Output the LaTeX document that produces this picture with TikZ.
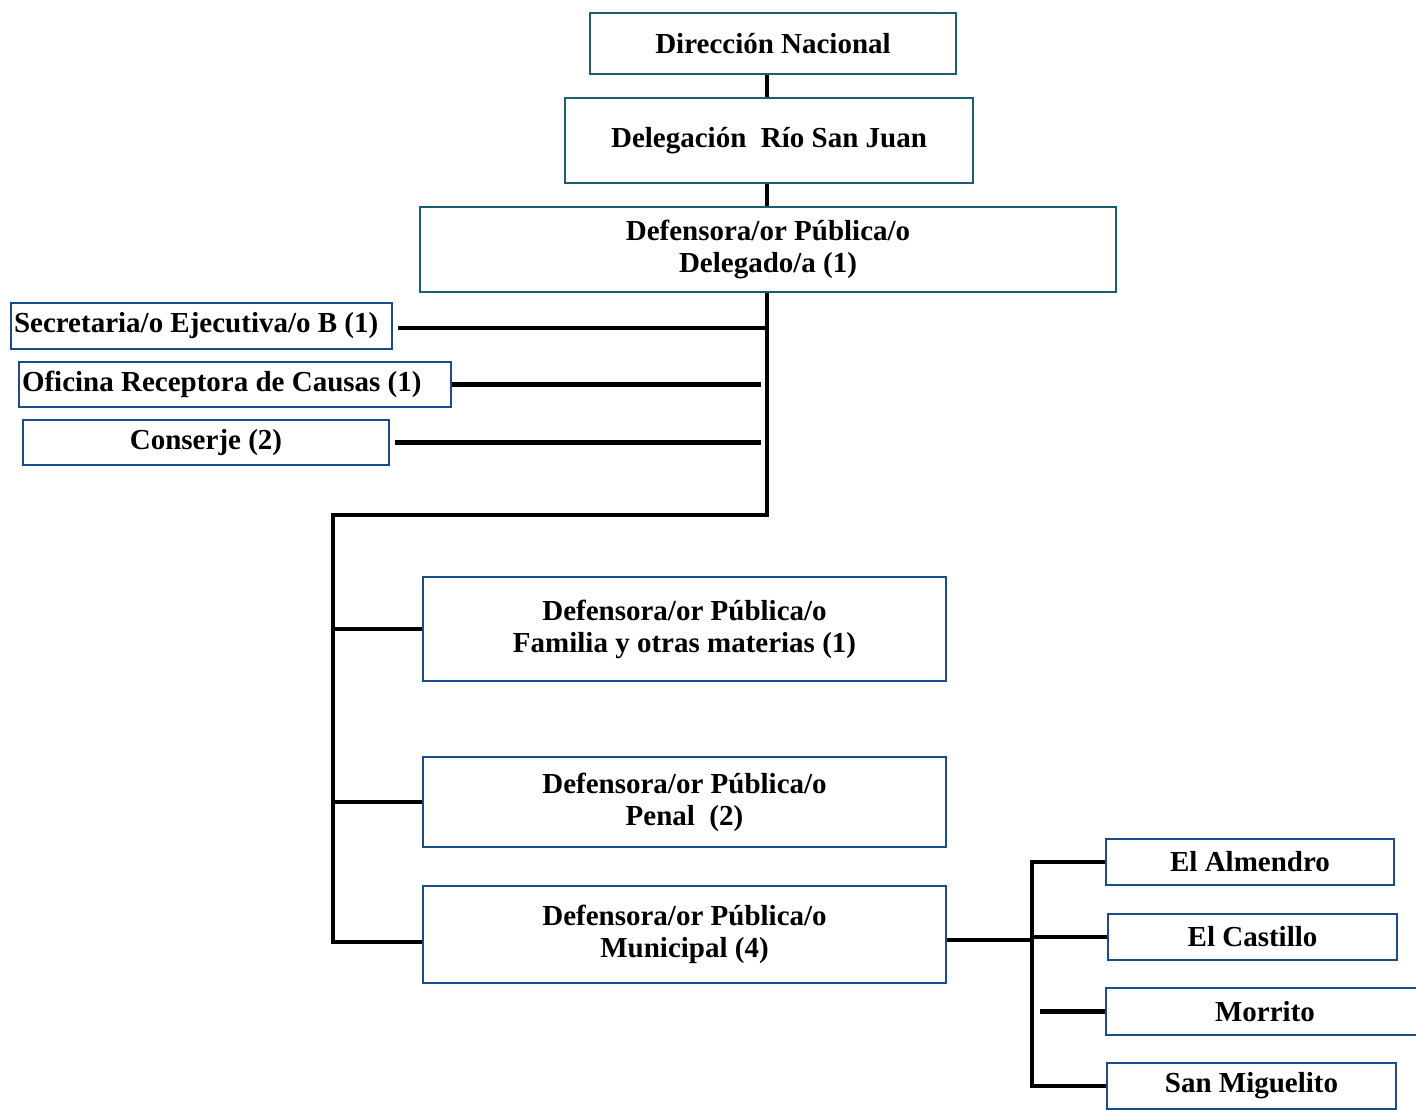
\documentclass[tikz,border=0pt]{standalone}
\usepackage{fontspec}
\setmainfont{Liberation Serif}
\usepackage{tikz}

\definecolor{boxteal}{RGB}{28,94,112}
\definecolor{boxblue}{RGB}{26,76,134}

\tikzset{
  unit/.style={draw=boxblue, line width=2pt, inner sep=3pt, align=center,
    font=\fontsize{29}{32}\selectfont\bfseries},
  headunit/.style={unit, draw=boxteal},
  leftunit/.style={unit, align=flush left},
  link/.style={line width=4.8pt, line cap=butt, line join=miter}
}

\begin{document}
\begin{tikzpicture}[x=1pt,y=-1pt]
   \clip (0,0) rectangle (1416,1109);
   \node[headunit, minimum width=366, minimum height=61](dn) at (773,43.5) {Dirección Nacional};
   \node[headunit, minimum width=408, minimum height=85](del) at (769,140.5) {Delegación\ \ Río San Juan};
   \node[headunit, minimum width=696, minimum height=85](dpd) at (768,249.5) {Defensora/or Pública/o\\Delegado/a (1)};
   \node[leftunit, text width=375, minimum height=46](sec) at (201.5,326) {Secretaria/o Ejecutiva/o B (1)};
   \node[leftunit, text width=426, minimum height=45](ofi) at (235,384.5) {Oficina Receptora de Causas (1)};
   \node[unit, minimum width=366, minimum height=45](con) at (206,442.5) {Conserje (2)};
   \node[unit, minimum width=523, minimum height=104](fam) at (684.5,629) {Defensora/or Pública/o\\Familia y otras materias (1)};
   \node[unit, minimum width=523, minimum height=90](pen) at (684.5,802) {Defensora/or Pública/o\\Penal\ \ (2)};
   \node[unit, minimum width=523, minimum height=97](mun) at (684.5,934.5) {Defensora/or Pública/o\\Municipal (4)};
   \node[unit, minimum width=288, minimum height=46](alm) at (1250,862) {El Almendro};
   \node[unit, minimum width=289, minimum height=46](cas) at (1252.5,937) {El Castillo};
   \node[unit, minimum width=318, minimum height=47](mor) at (1265,1011.5) {Morrito};
   \node[unit, minimum width=289, minimum height=46](smi) at (1251.5,1086) {San Miguelito};

   \coordinate (jA) at (767,515);
   \coordinate (jB) at (333,942);
   \coordinate (jC) at (1032,940);

   \draw[link](dn.south -| jA) to (del.north -| jA);
   \draw[link](del.south -| jA) to (dpd.north -| jA);
   \draw[link](dpd.south -| jA) -- (jA) -| (jB) -- (jB -| mun.west);
   \draw[link]([xshift=5,yshift=-2]sec.east) to ([yshift=-2]sec.east -| jA);
   \draw[link](ofi.east) to ([xshift=-6]ofi.east -| jA);
   \draw[link]([xshift=5]con.east) to ([xshift=-6]con.east -| jA);
   \draw[link](fam.west -| jB) to (fam.west);
   \draw[link](pen.west -| jB) to (pen.west);
   \draw[link](mun.east |- jC) to (jC);
   \draw[link](alm.west) -| (jC |- smi.west) -- (smi.west);
   \draw[link](cas.west -| jC) to (cas.west);
   \draw[link]([xshift=8]mor.west -| jC) to (mor.west);
\end{tikzpicture}
\end{document}
